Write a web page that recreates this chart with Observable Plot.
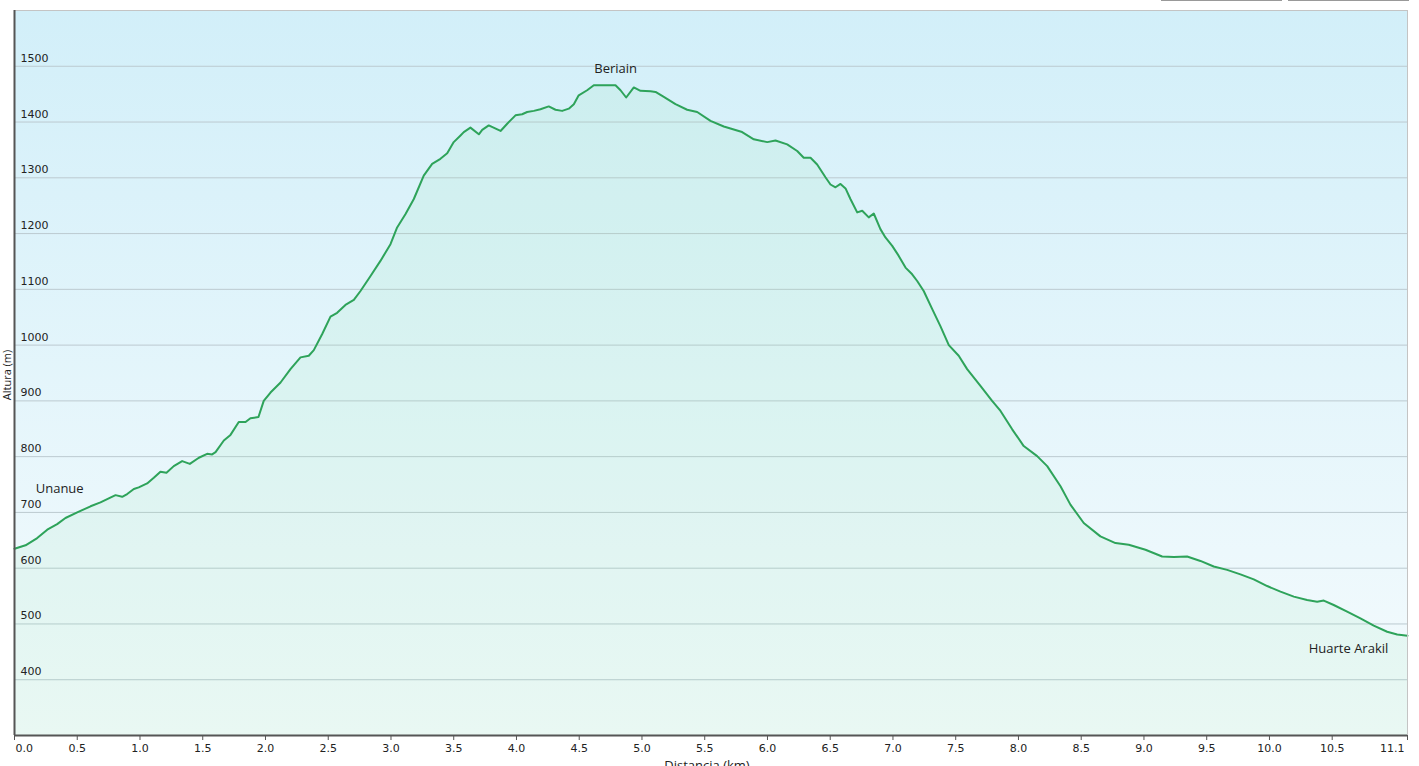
<!DOCTYPE html>
<html>
<head>
<meta charset="utf-8">
<script src="https://cdn.jsdelivr.net/npm/d3@7"></script>
<script src="https://cdn.jsdelivr.net/npm/@observablehq/plot@0.6"></script>
<style>
  html, body { margin: 0; padding: 0; background: #fff; }
  #wrap { position: relative; width: 1419px; height: 766px; overflow: hidden; }
  .btn { position: absolute; top: -20px; height: 20px; border: 1px solid #999; border-top: none; background: #fafafa; }
</style>
</head>
<body>
<div id="wrap">
  <div class="btn" style="left:1161px; width:119px;"></div>
  <div class="btn" style="left:1288px; width:119px;"></div>
</div>
<script>
// Distance along the route (km)
const distanceKm = [
  0.000, 0.088, 0.181, 0.261, 0.340, 0.406, 0.500, 0.606, 0.685, 0.805, 0.858, 0.898, 0.951, 0.990,
  1.057, 1.110, 1.163, 1.211, 1.269, 1.336, 1.397, 1.469, 1.535, 1.575, 1.602, 1.668, 1.721, 1.787,
  1.841, 1.880, 1.944, 1.986, 2.040, 2.120, 2.199, 2.279, 2.345, 2.385, 2.452, 2.518, 2.571, 2.637,
  2.704, 2.757, 2.837, 2.916, 2.996, 3.049, 3.116, 3.182, 3.261, 3.328, 3.394, 3.448, 3.500, 3.554,
  3.580, 3.633, 3.700, 3.727, 3.779, 3.873, 3.926, 3.992, 4.045, 4.085, 4.138, 4.191, 4.257, 4.311,
  4.364, 4.417, 4.457, 4.496, 4.563, 4.616, 4.696, 4.789, 4.829, 4.874, 4.935, 4.988, 5.068, 5.108,
  5.174, 5.267, 5.360, 5.440, 5.546, 5.652, 5.798, 5.891, 5.998, 6.064, 6.157, 6.237, 6.289, 6.343,
  6.396, 6.462, 6.502, 6.542, 6.582, 6.622, 6.661, 6.715, 6.755, 6.807, 6.847, 6.900, 6.940, 6.994,
  7.046, 7.100, 7.153, 7.193, 7.245, 7.312, 7.378, 7.445, 7.524, 7.591, 7.697, 7.790, 7.857, 7.950,
  8.042, 8.149, 8.229, 8.335, 8.414, 8.520, 8.653, 8.773, 8.879, 9.012, 9.145, 9.238, 9.344, 9.450,
  9.556, 9.663, 9.769, 9.875, 9.982, 10.088, 10.194, 10.300, 10.380, 10.433, 10.512, 10.619, 10.725,
  10.831, 10.938, 11.018, 11.100
];
// Altitude (m)
const altitudeM = [
  635, 641, 654, 669, 679, 690, 700, 711, 718, 731, 728, 733, 742, 745,
  752, 762, 773, 771, 783, 792, 787, 798, 805, 804, 808, 829, 839, 862,
  862, 869, 871, 900, 915, 933, 957, 978, 981, 991, 1020, 1051, 1058, 1072,
  1081, 1097, 1124, 1151, 1181, 1211, 1235, 1262, 1304, 1325, 1334, 1344, 1364, 1376,
  1382, 1390, 1378, 1386, 1394, 1384, 1397, 1412, 1414, 1418, 1420, 1423, 1428, 1422,
  1420, 1424, 1432, 1448, 1457, 1466, 1466, 1466, 1457, 1444, 1462, 1456, 1455, 1454,
  1445, 1432, 1422, 1418, 1402, 1392, 1382, 1369, 1364, 1367, 1360, 1348, 1336, 1336,
  1324, 1301, 1288, 1283, 1289, 1281, 1262, 1238, 1241, 1229, 1236, 1208, 1193, 1178,
  1160, 1139, 1127, 1115, 1097, 1065, 1034, 1000, 981, 957, 927, 900, 882, 849,
  819, 801, 783, 747, 714, 681, 657, 645, 642, 633, 621, 620, 621, 613,
  603, 597, 589, 580, 568, 558, 549, 543, 540, 542, 534, 522, 510,
  497, 486, 481, 479
];
// Tick values
const xTicks = [0, 0.5, 1, 1.5, 2, 2.5, 3, 3.5, 4, 4.5, 5, 5.5, 6, 6.5, 7, 7.5, 8, 8.5, 9, 9.5, 10, 10.5, 11.1];
const yTicks = [400, 500, 600, 700, 800, 900, 1000, 1100, 1200, 1300, 1400, 1500];
// Place names (label positions in data units)
const placeNames = ["Unanue", "Beriain", "Huarte Arakil"];
const placeKm = [0.36, 4.79, 10.63];
const placeM = [743, 1496, 456];

const profile = distanceKm.map((d, i) => ({km: d, m: altitudeM[i]}));
const places = placeNames.map((n, i) => ({name: n, km: placeKm[i], m: placeM[i]}));
const xMin = 0, xMax = 11.1, yMin = 300, yMax = 1600;
const first = xTicks[0], last = xTicks[xTicks.length - 1];
const fmt = d => d.toFixed(1);

const chart = Plot.plot({
  width: 1419,
  height: 766,
  marginLeft: 14,
  marginRight: 12,
  marginTop: 10,
  marginBottom: 31,
  x: {domain: [xMin, xMax], axis: null, label: null},
  y: {domain: [yMin, yMax], axis: null, label: null},
  style: {fontFamily: "DejaVu Sans, Verdana, sans-serif", fontSize: "11px", color: "#222"},
  marks: [
    Plot.ruleY(yTicks, {stroke: "#bccad0", strokeWidth: 1}),
    Plot.areaY(profile, {x: "km", y1: yMin, y2: "m", fill: "#8ae6a6", fillOpacity: 0.11}),
    Plot.line(profile, {x: "km", y: "m", stroke: "#2ea35a", strokeWidth: 2}),
    Plot.ruleY([yMax], {stroke: "#c4c4c4"}),
    Plot.ruleX([xMax], {stroke: "#c4c4c4"}),
    Plot.ruleX([xMin], {stroke: "#555", strokeWidth: 2}),
    Plot.ruleY([yMin], {stroke: "#555", strokeWidth: 2}),
    Plot.text(yTicks, {x: xMin, y: d => d, text: d => String(d), textAnchor: "start", dx: 6, dy: -8, fill: "#222", fontSize: 11}),
    Plot.axisX(xTicks, {tickSize: 5, tickPadding: 4, stroke: "#555", fill: "#222", label: null,
      tickFormat: d => (d === first || d === last) ? "" : fmt(d), fontSize: 11}),
    Plot.text([first], {x: d => d, text: d => fmt(d), frameAnchor: "bottom", textAnchor: "start", lineAnchor: "top", dx: 1, dy: 9, fill: "#222", fontSize: 11}),
    Plot.text([last], {x: d => d, text: d => fmt(d), frameAnchor: "bottom", textAnchor: "end", lineAnchor: "top", dx: -3, dy: 9, fill: "#222", fontSize: 11}),
    Plot.text(places, {x: "km", y: "m", text: "name", fill: "#222", fontSize: 13, fontFamily: "Open Sans, sans-serif"}),
    Plot.text(["Altura (m)"], {frameAnchor: "left", textAnchor: "middle", rotate: -90, dx: -7, dy: 2, fill: "#222", fontSize: 11, fontFamily: "Open Sans, sans-serif"}),
    Plot.text(["Distancia (km)"], {frameAnchor: "bottom", textAnchor: "middle", lineAnchor: "top", dx: -4, dy: 25, fill: "#222", fontSize: 13, fontFamily: "Open Sans, sans-serif"})
  ]
});
chart.style.background = "linear-gradient(#d2eff9, #f5fbfd) 14px 10px / 1393px 725px no-repeat, #ffffff";
chart.style.maxWidth = "none";
document.getElementById("wrap").appendChild(chart);
</script>
</body>
</html>
